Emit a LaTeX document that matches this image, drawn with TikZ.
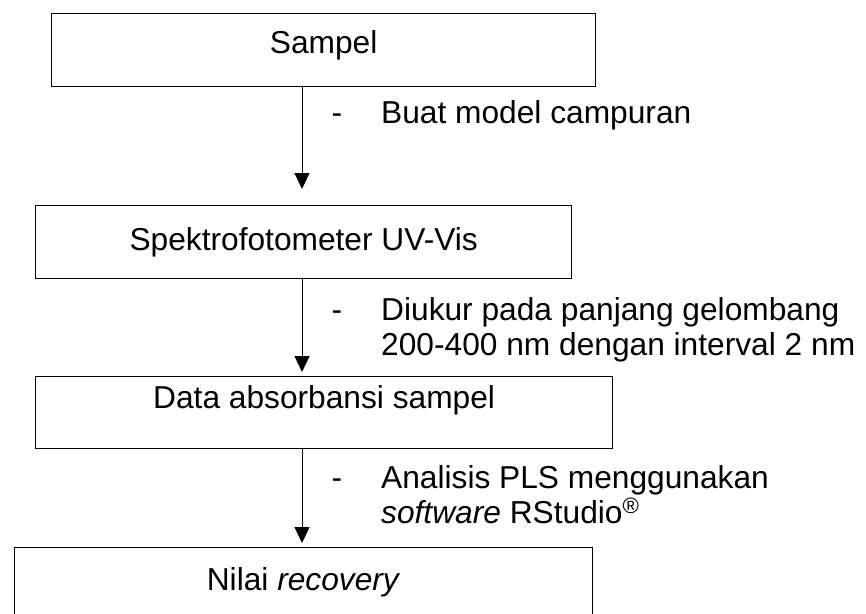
\documentclass[tikz,border=0pt]{standalone}
\usepackage{fontspec}
\setmainfont{Liberation Sans}
\usetikzlibrary{arrows.meta,calc}
\begin{document}
\begin{tikzpicture}[x=1pt,y=-1pt,
  box/.style={draw,line width=1.3pt,inner sep=0pt,anchor=north west,font=\fontsize{31.7}{36}\selectfont},
  lab/.style={anchor=base west,inner sep=0pt,font=\fontsize{31.7}{36}\selectfont},
  dashmark/.style={anchor=base,inner sep=0pt,font=\fontsize{31.7}{36}\selectfont},
  arr/.style={line width=1pt,-{Triangle[width=15pt,length=16pt]}}]
\useasboundingbox (0,0) rectangle (866,613);
\node[box,minimum width=544pt,minimum height=73pt,text height=20pt,text depth=13pt] (b1) at (51,13) {Sampel};
\node[box,minimum width=536pt,minimum height=73pt,text height=24pt,text depth=7pt] (b2) at (35,205) {Spektrofotometer UV-Vis};
\node[box,minimum width=577pt,minimum height=72pt,text height=11pt,text depth=19pt] (b3) at (35,376) {Data absorbansi sampel};
\node[box,minimum width=578pt,minimum height=72pt,text height=22pt,text depth=8pt] (b4) at (14,547) {Nilai \textit{recovery}};
\coordinate (ax) at (302,0);
\draw[arr] (b1.south -| ax) -- ($(b2.north -| ax)+(0,-16)$);
\draw[arr] (b2.south -| ax) -- ($(b3.north -| ax)+(0,-4)$);
\draw[arr] (b3.south -| ax) -- ($(b4.north -| ax)+(0,-4)$);
\node[dashmark] (d1) at (337,123) {-};
\node[lab] (l1) at (381,123) {Buat model campuran};
\node[dashmark] (d2) at (337,320) {-};
\node[lab] (l2a) at (381,320) {Diukur pada panjang gelombang};
\node[lab] (l2b) at (381,355) {200-400 nm dengan interval 2 nm};
\node[dashmark] (d3) at (337,488) {-};
\node[lab] (l3a) at (381,488) {Analisis PLS menggunakan};
\node[lab] (l3b) at (381,523) {\textit{software} RStudio\textsuperscript{®}};
\end{tikzpicture}
\end{document}
